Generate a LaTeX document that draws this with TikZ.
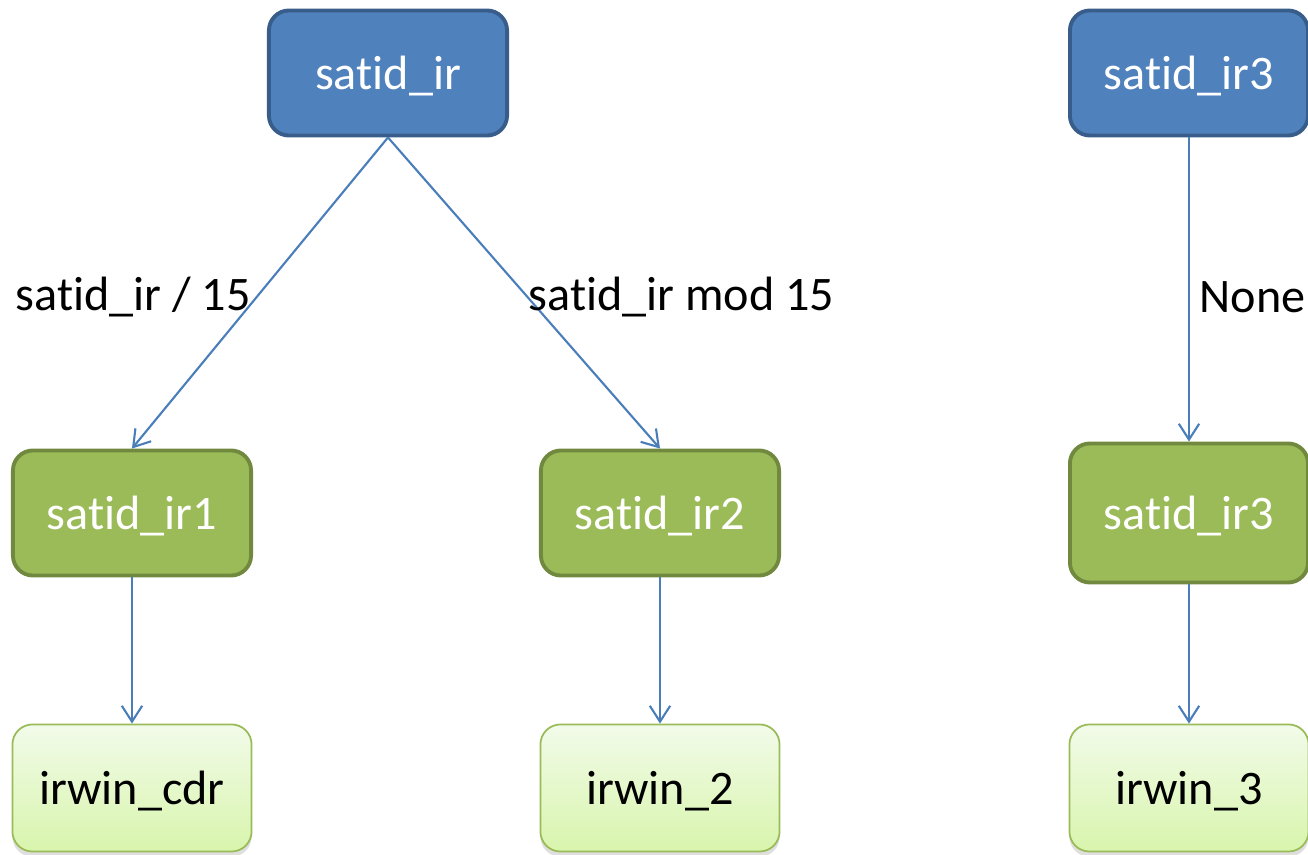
\documentclass[tikz,border=0pt]{standalone}
\usepackage{fontspec}
\setmainfont[RawFeature=-liga]{Carlito}
\usetikzlibrary{arrows.meta,shadows}
\definecolor{bluefill}{HTML}{4F81BD}
\definecolor{blueline}{HTML}{385D8A}
\definecolor{greenfill}{HTML}{9BBB59}
\definecolor{greenline}{HTML}{71893F}
\definecolor{lighttop}{HTML}{F2FBEA}
\definecolor{lightbot}{HTML}{D8F5AC}
\definecolor{conn}{HTML}{4A7EBB}
\tikzset{
  box/.style={rounded corners=0.2cm, inner sep=0pt, align=center,
    font=\fontsize{13.7}{16}\selectfont, text depth=0pt, yshift=0pt},
  topbox/.style={box, draw=blueline, fill=bluefill, line width=1.1pt, text=white,
    minimum width=2.38cm, minimum height=1.25cm},
  midbox/.style={box, draw=greenline, fill=greenfill, line width=1.1pt, text=white,
    minimum width=2.38cm, minimum height=1.25cm},
  leafbox/.style={box, draw=greenfill, line width=0.5pt, text=black,
    top color=lighttop, bottom color=lightbot,
    drop shadow={opacity=0.25, shadow xshift=0pt, shadow yshift=-1.5pt},
    minimum width=2.39cm, minimum height=1.27cm},
  conn/.style={draw=conn, line width=0.6pt, -{Straight Barb[length=4.5pt,width=5.8pt]}},
  lbl/.style={anchor=west, inner sep=0pt, font=\fontsize{13.7}{16}\selectfont, text=black}
}
\begin{document}
\begin{tikzpicture}[x=0.01cm,y=-0.01cm]
\useasboundingbox (0,0) rectangle (1308,855);
\node[topbox] (a) at (388,73) {satid\_ir};
\node[topbox] (c) at (1189,73) {satid\_ir3};
\node[midbox] (a1) at (132,513) {satid\_ir1};
\node[midbox] (a2) at (660,513) {satid\_ir2};
\node[midbox, minimum height=1.39cm] (c1) at (1189,513) {satid\_ir3};
\node[leafbox] (l1) at (132,788) {irwin\_cdr};
\node[leafbox] (l2) at (660,788) {irwin\_2};
\node[leafbox] (l3) at (1189,788) {irwin\_3};
\draw[conn] (a.south) -- (a1.north);
\draw[conn] (a.south) -- (a2.north);
\draw[conn] (c.south) -- (c1.north);
\draw[conn] (a1.south) -- (l1.north);
\draw[conn] (a2.south) -- (l2.north);
\draw[conn] (c1.south) -- (l3.north);
\node[lbl] (t1) at (15,297) {satid\_ir / 15};
\node[lbl] (t2) at (528,297) {satid\_ir mod 15};
\node[lbl] (t3) at (1199,297) {None};
\end{tikzpicture}
\end{document}
